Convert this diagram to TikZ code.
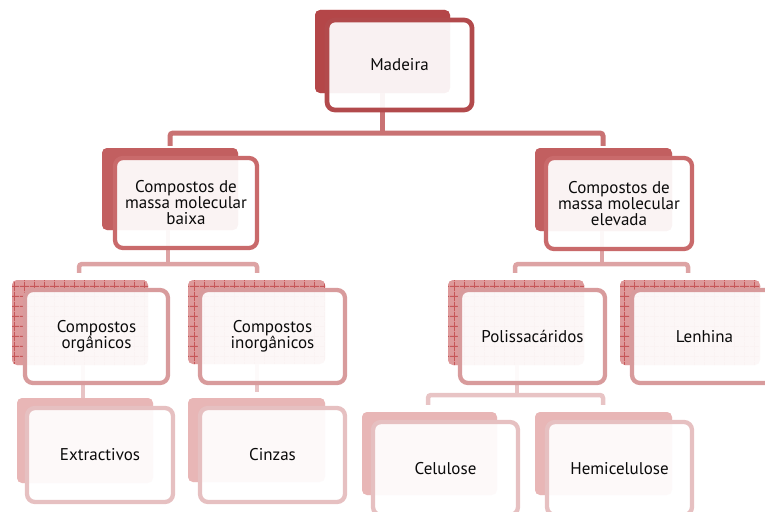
\documentclass[tikz,border=0pt]{standalone}
\usepackage{fontspec}
\setmainfont{PT Sans}
\usetikzlibrary{patterns.meta}

\tikzdeclarepattern{
  name=fgrid, type=uncolored,
  bottom left={(0pt,0pt)}, top right={(2.4pt,2.4pt)}, tile size={(2.4pt,2.4pt)},
  code={\pgfsetlinewidth{0.75pt}
    \pgfpathmoveto{\pgfpoint{0pt}{1.2pt}}\pgfpathlineto{\pgfpoint{2.4pt}{1.2pt}}
    \pgfpathmoveto{\pgfpoint{1.2pt}{0pt}}\pgfpathlineto{\pgfpoint{1.2pt}{2.4pt}}
    \pgfusepath{stroke}}}
\tikzdeclarepattern{
  name=cgrid, type=uncolored,
  bottom left={(0pt,0pt)}, top right={(10pt,10pt)}, tile size={(10pt,10pt)},
  code={\pgfsetlinewidth{0.9pt}
    \pgfpathmoveto{\pgfpoint{0pt}{5pt}}\pgfpathlineto{\pgfpoint{10pt}{5pt}}
    \pgfpathmoveto{\pgfpoint{5pt}{0pt}}\pgfpathlineto{\pgfpoint{5pt}{10pt}}
    \pgfusepath{stroke}}}

\definecolor{bd1}{HTML}{B24A4C}
\definecolor{bd2}{HTML}{C96A6B}
\definecolor{bd3}{HTML}{D89B9C}
\definecolor{bd4}{HTML}{E6C0C1}
\definecolor{cn1}{HTML}{C97273}
\definecolor{cn2}{HTML}{DDA3A4}
\definecolor{cn3}{HTML}{E8C4C5}
\definecolor{bf1}{HTML}{CB6A6C}
\definecolor{bp1}{HTML}{A83335}
\definecolor{bf2}{HTML}{D6898A}
\definecolor{bp2}{HTML}{B8494B}
\definecolor{bf3}{HTML}{EBB8B9}
\definecolor{bp3}{HTML}{D88A8B}
\definecolor{bl3}{HTML}{C65658}
\definecolor{bf4}{HTML}{F4DADA}
\definecolor{bp4}{HTML}{E3A3A4}
\definecolor{txt}{HTML}{0A0A0A}

\tikzset{
  txtfont/.style={font=\fontsize{17}{16}\selectfont, text=txt, align=center},
  backbox/.style={rounded corners=5pt, inner sep=0pt},
  back1/.style={backbox, preaction={fill=bf1}, pattern=fgrid, pattern color=bp1},
  back2/.style={backbox, preaction={fill=bf2}, pattern=fgrid, pattern color=bp2},
  back3/.style={backbox, preaction={fill=bf3}, preaction={pattern=fgrid, pattern color=bp3}, pattern=cgrid, pattern color=bl3},
  back4/.style={backbox, preaction={fill=bf4}, pattern=fgrid, pattern color=bp4},
  frontbox/.style={txtfont, rounded corners=8pt, fill=white, fill opacity=0.93, text opacity=1, draw opacity=1, inner sep=2pt},
  front1/.style={frontbox, draw=bd1, line width=4.7pt},
  front2/.style={frontbox, draw=bd2, line width=4.3pt},
  front3/.style={frontbox, draw=bd3, line width=4.3pt},
  front4/.style={frontbox, draw=bd4, line width=4.3pt},
  conn1/.style={draw=cn1, line width=5pt, rounded corners=3pt},
  conn2/.style={draw=cn2, line width=4.5pt, rounded corners=3pt},
  conn3/.style={draw=cn3, line width=4.5pt, rounded corners=3pt},
}

\begin{document}
\begin{tikzpicture}[x=1pt, y=-1pt]
\useasboundingbox (0,0) rectangle (765,511);
\clip (0,0) rectangle (765,511);

% junction / drop coordinates
\coordinate (j1) at (382,133);
\coordinate (d1l) at (170,133);
\coordinate (d1r) at (603,133);
\coordinate (j2l) at (168,264);
\coordinate (d2a) at (79,264);
\coordinate (d2b) at (257,264);
\coordinate (j2r) at (602,264);
\coordinate (d2c) at (515,264);
\coordinate (d2d) at (688,264);
\coordinate (j3o) at (83,398);
\coordinate (j3i) at (257,392);
\coordinate (j3p) at (517,395);
\coordinate (d3a) at (428,395);
\coordinate (d3b) at (603,395);

% back boxes
\node[back1, minimum width=135pt, minimum height=83pt] (madeirab) at (382.5,51.5) {};
\node[back2, minimum width=136pt, minimum height=82pt] (cbaixab) at (170,189) {};
\node[back2, minimum width=137pt, minimum height=83pt] (celevb) at (603.5,189.5) {};
\node[back3, minimum width=136pt, minimum height=85pt] (orgb) at (80,322.5) {};
\node[back3, minimum width=137pt, minimum height=84pt] (inorgb) at (256.5,322) {};
\node[back3, minimum width=136pt, minimum height=85pt] (polib) at (516,322.5) {};
\node[back3, minimum width=140pt, minimum height=85pt] (lenb) at (690,322.5) {};
\node[back4, minimum width=136pt, minimum height=85pt] (extrb) at (85,440.5) {};
\node[back4, minimum width=137pt, minimum height=84pt] (cinzb) at (256.5,440) {};
\node[back4, minimum width=135pt, minimum height=83pt] (celb) at (429.5,453.5) {};
\node[back4, minimum width=137pt, minimum height=83pt] (hemb) at (603.5,453.5) {};

% connectors
\draw[conn1] (madeirab.south -| j1) -- (j1);
\draw[conn1] ([yshift=2pt]cbaixab.north -| d1l) |- (j1) -| ([yshift=2pt]celevb.north -| d1r);
\draw[conn2] (cbaixab.south -| j2l) -- (j2l);
\draw[conn2] ([yshift=7pt]orgb.north -| d2a) |- (j2l) -| ([yshift=7pt]inorgb.north -| d2b);
\draw[conn2] (celevb.south -| j2r) -- (j2r);
\draw[conn2] ([yshift=7pt]polib.north -| d2c) |- (j2r) -| ([yshift=7pt]lenb.north -| d2d);
\draw[conn3] (orgb.south -| j3o) -- (extrb.north -| j3o);
\draw[conn3] (inorgb.south -| j3i) -- (j3i);
\draw[conn3] (polib.south -| j3p) -- (j3p);
\draw[conn3] ([yshift=7pt]celb.north -| d3a) |- (j3p) -| ([yshift=7pt]hemb.north -| d3b);

% front boxes
\node[front1, minimum width=145pt, minimum height=90pt] (madeira) at (399.5,65) {Madeira};
\node[front2, minimum width=142pt, minimum height=90pt] (cbaixa) at (186,203) {Compostos de\\massa molecular\\baixa};
\node[front2, minimum width=146pt, minimum height=91pt] (celev) at (619,203.5) {Compostos de\\massa molecular\\elevada};
\node[front3, minimum width=143pt, minimum height=93pt] (org) at (96.5,336.5) {Compostos\\orgânicos};
\node[front3, minimum width=145pt, minimum height=93pt] (inorg) at (272.5,336.5) {Compostos\\inorgânicos};
\node[front3, minimum width=145pt, minimum height=93pt] (poli) at (532.5,336.5) {Polissacáridos};
\node[front3, minimum width=145pt, minimum height=93pt] (len) at (704.5,336.5) {Lenhina};
\node[front4, minimum width=146pt, minimum height=94pt] (extr) at (100,455) {Extractivos};
\node[front4, minimum width=145pt, minimum height=94pt] (cinz) at (272.5,455) {Cinzas};
\node[front4, minimum width=145pt, minimum height=93pt] (cel) at (445.5,468.5) {Celulose};
\node[front4, minimum width=145pt, minimum height=93pt] (hem) at (619.5,468.5) {Hemicelulose};
\end{tikzpicture}
\end{document}
